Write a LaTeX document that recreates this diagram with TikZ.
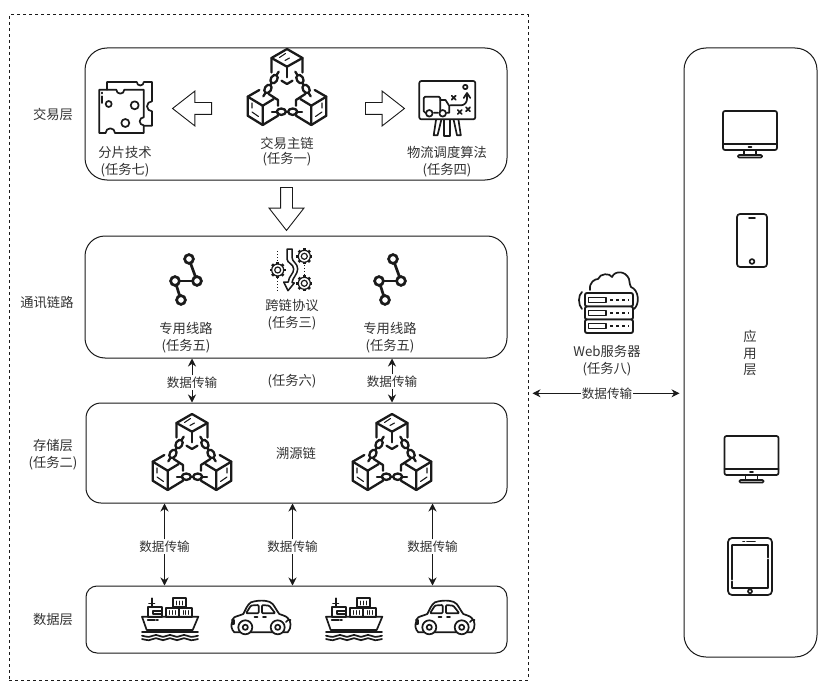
\documentclass[tikz,border=0pt]{standalone}
\usepackage{fontspec}
\setmainfont{Noto Sans CJK SC}
\usetikzlibrary{arrows.meta,shapes.arrows}
\definecolor{ink}{HTML}{1A1A1A}
\definecolor{labelgray}{HTML}{333333}
\tikzset{
  panel/.style={draw=ink,line width=1pt,inner sep=0pt,fill=white},
  txt/.style={inner sep=0pt,align=center,yshift=-.8pt,text=labelgray,font=\fontsize{13.3}{17}\selectfont},
  tag/.style={txt,fill=white,inner xsep=1pt,inner ysep=1.5pt,font=\fontsize{12.6}{17}\selectfont},
  hollow/.style={draw=ink,line width=.9pt,shape=single arrow,inner sep=5.5pt,anchor=tail,
    minimum height=39pt,minimum width=34pt,single arrow head extend=11.5pt,
    single arrow tip angle=76,shape border uses incircle=false},
  link/.style={ink,line width=.9pt,-{Stealth[length=8pt,width=8pt]}},
  iconline/.style={draw=ink,line width=2.3pt,line join=round,line cap=round},
  thinline/.style={draw=ink,line width=1.7pt,line join=round,line cap=round},
  chainicon/.pic={
    \begin{scope}[iconline]
      \draw (-15.5,-16.5) -- (-15.5,-31) -- (0,-40) -- (15.5,-31) -- (15.5,-16.5);
      \draw (-15.5,-31) -- (0,-22.3) -- (15.5,-31);
      \draw (0,-22.3) -- (0,-11.7);
      \draw (-5.5,-8.3) -- (0,-5) -- (5.5,-8.3);
      \draw[line width=1.1pt] (-7.5,-31.5) -- (-1.5,-35.5) (-2,-28.5) -- (2.5,-31);
      \foreach \s in {1,-1}{
        \begin{scope}[xscale=\s]
          \draw (-27.7,1) -- (-39.3,7.7) -- (-39.3,26.7) -- (-24.3,36) -- (-9,26.7) -- (-9,23.5);
          \draw (-39.3,7.7) -- (-24.3,16.7) -- (-24.3,36);
          \draw (-24.3,16.7) -- (-13.3,10);
          \draw (-18.3,5) -- (-9,11) -- (-9,16.7);
          \draw[line width=1.1pt] (-35,14) -- (-35,19) (-35,23) -- (-28.5,27.5);
          \begin{scope}[shift={(-16,-5)},rotate=58]
            \draw (-14.5,0) -- (-10.5,0) (-1.2,0) -- (1.2,0) (10.5,0) -- (14.5,0);
            \draw (-5.8,0) ellipse (4.6 and 3.2);
            \draw (5.8,0) ellipse (4.6 and 3.2);
          \end{scope}
        \end{scope}
      }
      \draw (-15,22.7) -- (-10.5,22.7) (-1.2,22.7) -- (1.2,22.7) (10.5,22.7) -- (15,22.7);
      \draw (-5.7,22.7) ellipse (4.6 and 3.2);
      \draw (5.7,22.7) ellipse (4.6 and 3.2);
    \end{scope}
  },
  shardicon/.pic={
    \begin{scope}[thinline]
      \draw (-18,-18.3) -- (-18,-26) -- (11.8,-26)
        arc[start angle=180,end angle=0,radius=3.5] -- (27,-26) -- (27,-6.7)
        arc[start angle=270,end angle=90,radius=5] -- (27,17.7) -- (18.7,17.7);
      \draw (-25.7,-18.3) -- (-8.7,-18.3)
        arc[start angle=180,end angle=0,radius=4] -- (18.7,-18.3) -- (18.7,9.3)
        arc[start angle=270,end angle=90,radius=4] -- (18.7,25) -- (-10,25)
        arc[start angle=0,end angle=-180,radius=4.7] -- (-25.7,25) -- cycle;
      \draw (-23,-15.5) -- (-23,-14.5) (-23,-11.7) -- (-23,-5);
      \draw (-16.3,-4) circle (3);
      \draw (9.7,-2.7) circle (4);
      \draw (.3,15) circle (4);
    \end{scope}
  },
  boardicon/.pic={
    \begin{scope}[thinline]
      \draw[rounded corners=2pt] (-27.7,-28) rectangle (28.3,10.3);
      \draw[rounded corners=1.5pt] (-13,3.7) -- (-9,3.7) (-21,3.7) -- (-23.3,3.7) -- (-23.3,-12.3) -- (-6.7,-12.3) -- (-6.7,3.7);
      \draw (-6.7,-9) -- (-1.5,-9) -- (2.3,-3) -- (2.3,3.7) -- (0,3.7);
      \draw[fill=white] (-17.7,4.3) circle (3.3);
      \draw[fill=white] (-4.3,4.3) circle (3.3);
      \draw (3.3,-3.7) -- (14,-3.7) to[out=0,in=-90] (20,-10) -- (20,-15.5);
      \draw (16.7,-11) -- (20,-16) -- (23.3,-11);
      \draw (18.3,-22) circle (2.2);
      \foreach \px/\py in {6.7/-11.3,12.7/3,21/.3}{
        \draw (\px-2,\py-2) -- (\px+2,\py+2) (\px-2,\py+2) -- (\px+2,\py-2);
      }
      \draw (-11,11) -- (-13.3,26.3) -- (-9.5,26.3) -- (-5.7,11);
      \draw (-2.7,11) -- (-2.7,27) -- (3.3,27) -- (3.3,11);
      \draw (6.7,11) -- (10,26.3) -- (13.8,26.3) -- (11.5,11);
    \end{scope}
  },
  routeicon/.pic={
    \begin{scope}[draw=ink,line width=2.7pt]
      \draw (3,-21) -- (11,1);
      \draw (-11,1) -- (11,1);
      \draw (-11,1) -- (-5,20);
      \draw[fill=white] (3,-21) circle (4.4);
      \draw[fill=white] (11,1) circle (4.4);
      \draw[fill=white] (-11,1) circle (4.4);
      \draw[fill=white] (-5,20) circle (4.4);
    \end{scope}
  },
  gearicon/.pic={
    \draw[thinline,line width=1.2pt] (0,0) circle (3);
    \draw[thinline,line width=1.2pt] (0,0) circle (6);
    \foreach \a in {0,45,...,315}{
      \draw[ink,line width=2.6pt] (\a:5.8) -- (\a:8);
    }
  },
  bridgeicon/.pic={
    \pic at (-14.8,1) {gearicon};
    \pic at (11.8,-12.7) {gearicon};
    \pic at (11.8,14.3) {gearicon};
    \draw[ink,line width=1.1pt,dotted] (-14.8,-18) -- (-14.8,-7.5) (-14.8,9) -- (-14.8,21.7);
    \draw[ink,line width=1.1pt,dotted] (11.8,-4.3) -- (11.8,6.5);
    \begin{scope}[thinline,line width=1.5pt]
      \draw (-5.5,-20) -- (-5.5,-10) .. controls (-5.5,-6) and (1.2,-5) .. (1.2,0) .. controls (1.2,5) and (-3.8,7) .. (-4.2,13)
        -- (-8.8,13) -- (-4.5,21.7) -- (1.8,14) -- (-.5,13.5)
        .. controls (0,9) and (5.2,5) .. (5.2,0) .. controls (5.2,-6) and (-.5,-7) .. (-.5,-11.7) -- (-.5,-20) -- cycle;
    \end{scope}
  },
  cloudicon/.pic={
    \begin{scope}[thinline]
      \draw (-17,-12) .. controls (-18,-20) and (-12,-23) .. (-9,-23)
        .. controls (-7,-29) and (3,-29) .. (5,-25)
        .. controls (8,-32) and (19,-31) .. (22,-23) .. controls (23,-20) and (22,-19) .. (24,-15)
        .. controls (32,-12) and (33,2) .. (27,7);
      \draw (-25,-10) .. controls (-29,-7) and (-29,3) .. (-25,7);
      \draw[line width=1.9pt,rounded corners=2pt,fill=white] (-22,-9) rectangle (26,4.5);
      \draw[line width=1.9pt,rounded corners=2pt,fill=white] (-22,4.5) rectangle (26,17.5);
      \draw[line width=1.9pt,rounded corners=2pt,fill=white] (-22,17.5) rectangle (26,31);
      \foreach \ry in {-2,11,24}{
        \draw[line width=1.5pt] (-18.5,\ry-2.5) rectangle (-1,\ry+2.5);
        \draw[dash pattern=on 2.5pt off 3.5pt,line cap=butt] (3,\ry) -- (22,\ry);
      }
    \end{scope}
  },
  monitoricon/.pic={
    \begin{scope}[thinline]
      \draw[rounded corners=2pt] (-27,-19.5) rectangle (27,19.5);
      \draw (-27,13.5) -- (27,13.5);
      \draw (-1.5,16.5) -- (1.5,16.5);
      \draw (-6,19.5) -- (-6,24.5) (6,19.5) -- (6,24.5);
      \draw[rounded corners=1pt] (-12,24.5) rectangle (12,27);
    \end{scope}
  },
  phoneicon/.pic={
    \begin{scope}[thinline]
      \draw[rounded corners=3pt] (-15,-26.5) rectangle (15,26.5);
      \draw (-3,-22.5) -- (3,-22.5);
      \draw (0,21) circle (2.4);
    \end{scope}
  },
  padicon/.pic={
    \begin{scope}[thinline]
      \draw[rounded corners=4pt] (-22,-28.5) rectangle (22,28.5);
      \draw (-18,-21.5) -- (18,-21.5) -- (18,-9) (18,-7) -- (18,21.5) -- (-18,21.5) -- (-18,15) (-18,13) -- (-18,-21.5);
      \draw (-3,-25) -- (5,-25) (-7,-25) -- (-5.5,-25);
      \draw (0,24.8) circle (2);
    \end{scope}
  },
  shipicon/.pic={
    \begin{scope}[thinline]
      \draw (-28,-3.3) -- (28.3,-3.3) -- (22.7,10) -- (-23.3,10) -- cycle;
      \draw (-28,12.3) -- (28,12.3);
      \foreach \wy in {15.7,19}{
        \draw plot[smooth] coordinates {(-28,\wy) (-21,\wy+1.2) (-14,\wy-.8) (-7,\wy+1.2) (0,\wy-.8) (7,\wy+1.2) (14,\wy-.8) (21,\wy+1.2) (28,\wy)};
      }
      \draw (-4,-3.3) rectangle (8.7,-12);
      \draw (9.3,-3.3) rectangle (22,-12);
      \draw (2.7,-12.7) rectangle (16,-21.7);
      \draw (-22.3,-3.3) rectangle (-8,-12.7);
      \draw (-17.3,-9.3) rectangle (-8,-6);
      \draw (-18.3,-12.7) -- (-18.3,-21.7);
      \draw (-21,-16.5) -- (-15.5,-16.5);
      \draw (-22.3,0) -- (-15,0) (-13.5,0) -- (-12,0);
      \foreach \cx/\cy in {-.5/-7.5,2.3/-7.5,5.1/-7.5,13/-7.5,15.8/-7.5,18.6/-7.5,6.5/-17,9.3/-17,12.1/-17}{
        \draw[line width=.9pt] (\cx,\cy-2) -- (\cx,\cy+2);
      }
    \end{scope}
  },
  caricon/.pic={
    \begin{scope}[thinline]
      \draw[line width=1.7pt] (-27.7,12.3) .. controls (-31,9) and (-31,5) .. (-30,2.3)
        .. controls (-30,0) and (-29,-1.5) .. (-27.7,-2.7)
        .. controls (-25,-4) and (-21,-5) .. (-18.7,-6)
        .. controls (-16,-11) and (-15,-15) .. (-11,-17.7)
        .. controls (-6,-19.5) and (-1,-19.5) .. (2.3,-19.3)
        .. controls (7,-18.5) and (9,-18) .. (10.7,-16)
        .. controls (13,-13) and (15,-9) .. (17.3,-6)
        .. controls (20,-5) and (24,-4) .. (25.7,-2)
        .. controls (29,0) and (30,8) .. (25.7,12.3) -- cycle;
      \draw[rounded corners=1pt] (-16,-6.7) -- (-11,-14.5) -- (-3.3,-15) -- (-3.3,-6.7) -- cycle;
      \draw[rounded corners=1pt] (0,-15) -- (7.3,-14.3) -- (13.3,-6.7) -- (0,-6.7) -- cycle;
      \draw (-7.5,-2.7) -- (-4.5,-2.7) (1,-2.7) -- (4,-2.7);
      \draw (-30,0) -- (-28,0) -- (-28,4) -- (-30,4);
      \draw (28.5,0) -- (26,0) -- (24,2);
      \draw[fill=white] (-16.7,7.3) circle (7);
      \draw[fill=white] (15.7,7.3) circle (7);
      \draw (-16.7,7.3) circle (2.6);
      \draw (15.7,7.3) circle (2.6);
    \end{scope}
  }
}
\begin{document}
\begin{tikzpicture}[x=1pt,y=-1pt]
  \useasboundingbox (0,0) rectangle (831,693);
  \node[panel,dashed,dash pattern=on 3pt off 3pt,minimum width=519pt,minimum height=665pt] (outerbox) at (268.5,347.5) {};
  \node[panel,rounded corners=22pt,minimum width=422pt,minimum height=132pt] (tradebox) at (296,114) {};
  \node[panel,rounded corners=20pt,minimum width=422pt,minimum height=122pt] (commbox) at (296,297) {};
  \node[panel,rounded corners=15pt,minimum width=421pt,minimum height=100pt] (storebox) at (296.5,453) {};
  \node[panel,rounded corners=11pt,minimum width=421pt,minimum height=67pt] (databox) at (296.5,619.5) {};
  \node[panel,rounded corners=22pt,minimum width=133pt,minimum height=609pt] (appbox) at (750.5,352.5) {};

  % layer names
  \node[txt] (tradename) at (53,114) {交易层};
  \node[txt] (commname) at (47,302) {通讯链路};
  \node[txt] (storename) at (53,453.5) {存储层\\(任务二)};
  \node[txt] (dataname) at (53,619) {数据层};
  \node[txt,font=\fontsize{13.3}{16.5}\selectfont] (appname) at (750,352.5) {应\\用\\层};

  % trading layer
  \pic at (287,89) {chainicon};
  \pic at (125,108) {shardicon};
  \pic at (447,109) {boardicon};
  \node[txt,font=\fontsize{13.3}{15}\selectfont] (maintxt) at (287,150.5) {交易主链\\(任务一)};
  \node[txt] (shardtxt) at (125,160.5) {分片技术\\(任务七)};
  \node[txt] (boardtxt) at (447,160.5) {物流调度算法\\(任务四)};
  \node[hollow,rotate=180] (toshard) at (212,108.5) {};
  \node[hollow] (toboard) at (365,108.5) {};
  \node[hollow,rotate=-90,minimum height=43pt] (tocomm) at (286.5,187) {};

  % communication layer
  \pic at (186,280) {routeicon};
  \pic at (390,280) {routeicon};
  \pic at (292.5,269) {bridgeicon};
  \node[txt] (routetxta) at (186,336.5) {专用线路\\(任务五)};
  \node[txt] (routetxtb) at (390,336.5) {专用线路\\(任务五)};
  \node[txt] (bridgetxt) at (292,314) {跨链协议\\(任务三)};
  \node[txt] (sixtxt) at (292,380) {(任务六)};

  % storage layer
  \pic at (192,454) {chainicon};
  \pic at (392,454) {chainicon};
  \node[txt] (tracetxt) at (296,453) {溯源链};

  % data layer
  \pic at (170,620) {shipicon};
  \pic at (354,620) {shipicon};
  \pic at (262,620) {caricon};
  \pic at (446,620) {caricon};

  % web server
  \pic at (607,302) {cloudicon};
  \node[txt] (webtxt) at (607,360) {Web服务器\\(任务八)};

  % clients
  \pic at (750,130.5) {monitoricon};
  \pic at (752,240.5) {phoneicon};
  \pic at (751.5,455.5) {monitoricon};
  \pic at (750,566.5) {padicon};

  % transfer links
  \node[tag] (commlinka) at (192,382) {数据传输};
  \node[tag] (commlinkb) at (392,381) {数据传输};
  \node[tag] (datalinka) at (164.5,546) {数据传输};
  \node[tag] (datalinkb) at (292.5,546) {数据传输};
  \node[tag] (datalinkc) at (432.5,546) {数据传输};
  \node[tag] (weblink) at (607,392.5) {数据传输};
  \foreach \lnk/\upper/\lower in {commlinka/commbox/storebox,commlinkb/commbox/storebox,
      datalinka/storebox/databox,datalinkb/storebox/databox,datalinkc/storebox/databox}{
    \draw[link] (\lnk) -- (\lnk |- \upper.south);
    \draw[link] (\lnk) -- (\lnk |- \lower.north);
  }
  \draw[link,shorten >=4pt] (weblink) -- (weblink -| outerbox.east);
  \draw[link,shorten >=4pt] (weblink) -- (weblink -| appbox.west);
\end{tikzpicture}
\end{document}
